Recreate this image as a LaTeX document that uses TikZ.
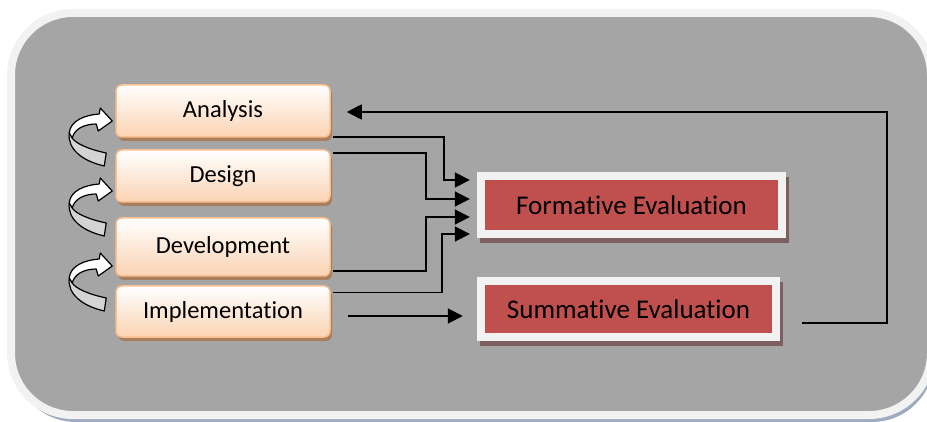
\documentclass[tikz,border=0pt]{standalone}
\usepackage{fontspec}
\setmainfont{Carlito}[Ligatures=NoCommon]
\usetikzlibrary{arrows.meta,calc,shadows}
\definecolor{panel}{HTML}{A5A5A5}
\definecolor{rim}{HTML}{F2F2F2}
\definecolor{rimshadow}{HTML}{8797B0}
\definecolor{phaseline}{HTML}{F9BF8F}
\definecolor{phasefill}{HTML}{FBD3B3}
\definecolor{phaseshadow}{HTML}{A87E5D}
\definecolor{evalred}{HTML}{C0504D}
\definecolor{evalshadow}{HTML}{7E5F5F}
\definecolor{twist}{HTML}{D4D4D4}

\begin{document}
\begin{tikzpicture}[
  x=1pt,y=1pt,font=\fontsize{24.5}{29}\selectfont,
  phase/.style={draw=phaseline,line width=1.5pt,rounded corners=6pt,
    top color=white,bottom color=phasefill,minimum width=214,minimum height=52,
    inner sep=0pt,drop shadow={shadow xshift=2pt,shadow yshift=-4pt,fill=phaseshadow,opacity=1}},
  evaluation/.style={fill=rim,inner sep=0pt,font=\fontsize{27}{31}\selectfont,
    drop shadow={shadow xshift=3pt,shadow yshift=-5pt,fill=evalshadow,opacity=1},
    path picture={\fill[evalred] ([shift={(8pt,-8pt)}]path picture bounding box.north west)
      rectangle ([shift={(-8pt,8pt)}]path picture bounding box.south east);}},
  flow/.style={draw=black,line width=1.8pt,-{Triangle[length=15pt,width=15pt]}},
  loopback/.pic={
    \filldraw[fill=twist,line width=1.2pt,line join=round]
      (-43,-12) .. controls (-45,-28) and (-30,-40) .. (-8,-45) -- (-6,-32)
      .. controls (-25,-28) and (-37,-22) .. (-40,-17) -- cycle;
    \filldraw[fill=white,line width=1.2pt,line join=round]
      (-43,-12) .. controls (-42,0) and (-28,6) .. (-13,7) -- (-12,13) -- (0,0)
      -- (-14,-10) -- (-16,-3) .. controls (-28,-3) and (-38,-8) .. (-40,-17) -- cycle;
  }
]
\path[use as bounding box] (0,0) rectangle (927,-422);

% grey panel with light rim
\path[fill=panel,draw=rim,line width=8pt,rounded corners=62pt,
  drop shadow={shadow xshift=3pt,shadow yshift=-7pt,fill=rimshadow,opacity=.8}]
  (11,-13) rectangle (931,-415);

% ADDIE phases
\node[phase] (ana) at (223,-111) {Analysis};
\node[phase] (des) at (223,-176) {Design};
\node[phase,minimum height=58] (dev) at (223,-247) {Development};
\node[phase,minimum height=51] (impl) at (223,-311.5) {Implementation};

\pic at ($(ana.west)+(-3,-10)$) {loopback};
\pic at ($(des.west)+(-3,-15)$) {loopback};
\pic at ($(dev.west)+(-3,-19)$) {loopback};

% evaluation boxes
\node[evaluation,minimum width=309,minimum height=66] (form) at (631.5,-205) {Formative Evaluation};
\node[evaluation,minimum width=303,minimum height=64] (summ) at (628.5,-309) {Summative Evaluation};

\draw[flow] ($(ana.east)+(2,-26)$) -| ($(form.west)+(-33,25)$) -- ($(form.west)+(-7,25)$);
\draw[flow] ($(des.east)+(2,23)$) -| ($(form.west)+(-51,6)$) -- ($(form.west)+(-7,6)$);
\draw[flow] ($(dev.east)+(2,-24)$) -| ($(form.west)+(-51,-12)$) -- ($(form.west)+(-7,-12)$);
\draw[flow] ($(impl.east)+(2,19)$) -| ($(form.west)+(-35,-29)$) -- ($(form.west)+(-7,-29)$);
\draw[flow] ($(impl.east)+(17,-4.5)$) -- ($(summ.west |- impl.east)+(-14,-4.5)$);

% feedback loop
\draw[flow] ($(summ.east)+(22,-14)$) -- ++(85,0) |- ($(ana.east)+(16,-1)$);
\end{tikzpicture}
\end{document}
